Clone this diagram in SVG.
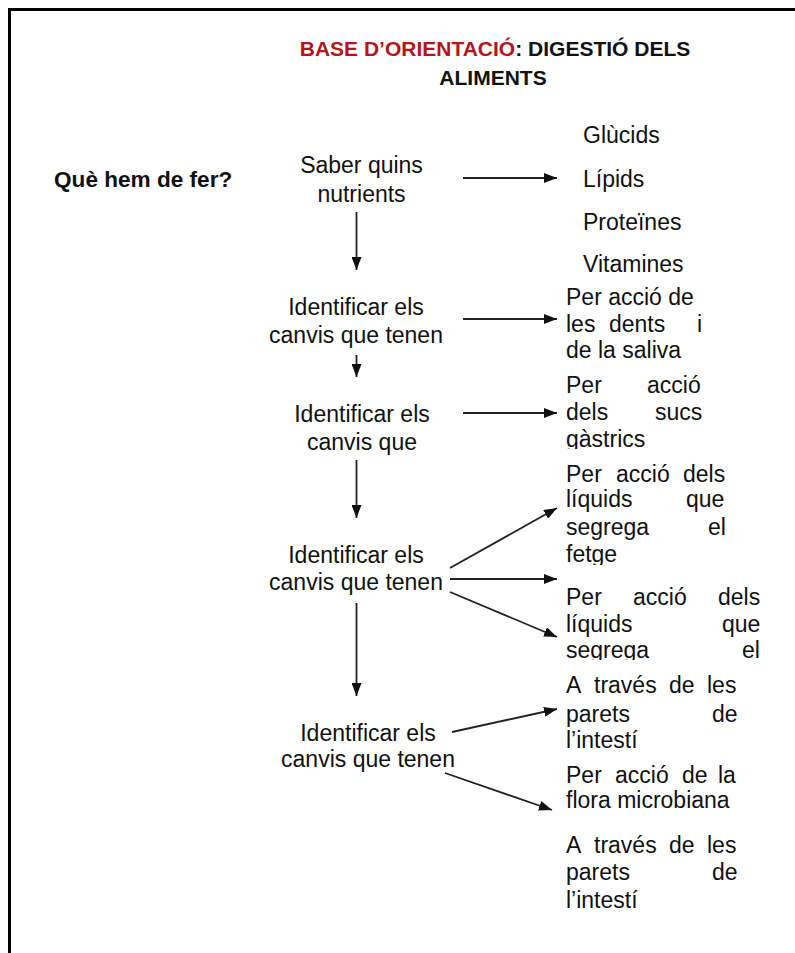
<svg xmlns="http://www.w3.org/2000/svg" width="795" height="953" viewBox="0 0 795 953">
<style>
.t{font-family:"Liberation Sans",Arial,sans-serif;font-size:23px;fill:#111}
.c{text-anchor:middle}
.b{font-weight:bold}
.ttl{font-family:"Liberation Sans",Arial,sans-serif;font-size:21px;font-weight:bold;text-anchor:middle;fill:#111}
.red{fill:#b3151b}
.ln{stroke:#222;stroke-width:1.8;fill:none;marker-end:url(#ah)}
</style>
<defs>
<marker id="ah" markerUnits="userSpaceOnUse" markerWidth="13" markerHeight="10" refX="13" refY="5" orient="auto">
<path d="M0,0 L13,5 L0,10 z" fill="#111"/>
</marker>
<clipPath id="cp3"><rect x="560" y="360" width="200" height="89"/></clipPath>
<clipPath id="cp4"><rect x="560" y="455" width="200" height="110"/></clipPath>
<clipPath id="cp5"><rect x="560" y="580" width="220" height="80"/></clipPath>
</defs>
<rect x="0" y="0" width="795" height="953" fill="#fff"/>
<g id="frame">
<path d="M9.5,953 V9.5 H795" stroke="#000" stroke-width="3" fill="none"/>
</g>
<g id="title">
<text class="ttl" x="495" y="56"><tspan class="red">BASE D’ORIENTACIÓ</tspan>: DIGESTIÓ DELS</text>
<text class="ttl" x="493" y="85">ALIMENTS</text>
</g>
<g id="question">
<text class="t b" x="54" y="187" style="font-size:22.6px">Què hem de fer?</text>
</g>
<g id="node1">
<text class="t c" x="361.5" y="173">Saber quins</text>
<text class="t c" x="361.5" y="202">nutrients</text>
</g>
<g id="node2">
<text class="t c" x="356" y="315">Identificar els</text>
<text class="t c" x="356" y="343">canvis que tenen</text>
</g>
<g id="node3">
<text class="t c" x="362" y="422">Identificar els</text>
<text class="t c" x="362" y="450">canvis que</text>
</g>
<g id="node4">
<text class="t c" x="356" y="563">Identificar els</text>
<text class="t c" x="356" y="590">canvis que tenen</text>
</g>
<g id="node5">
<text class="t c" x="368" y="741">Identificar els</text>
<text class="t c" x="368" y="767">canvis que tenen</text>
</g>
<g id="nutrients">
<text class="t" x="583" y="143">Glùcids</text>
<text class="t" x="583" y="187">Lípids</text>
<text class="t" x="583" y="230">Proteïnes</text>
<text class="t" x="583" y="272">Vitamines</text>
</g>
<g id="r2">
<text class="t" x="566" y="305">Per acció de</text>
<text class="t" y="332"><tspan x="566">les</tspan><tspan x="609">dents</tspan><tspan x="697">i</tspan></text>
<text class="t" x="566" y="358">de la saliva</text>
</g>
<g id="r3" clip-path="url(#cp3)">
<text class="t" y="393"><tspan x="566">Per</tspan><tspan x="647">acció</tspan></text>
<text class="t" y="420"><tspan x="566">dels</tspan><tspan x="655">sucs</tspan></text>
<text class="t" x="566" y="447">gàstrics</text>
</g>
<g id="r4" clip-path="url(#cp4)">
<text class="t" y="482"><tspan x="566">Per</tspan><tspan x="616">acció</tspan><tspan x="683">dels</tspan></text>
<text class="t" y="507"><tspan x="566">líquids</tspan><tspan x="686">que</tspan></text>
<text class="t" y="535"><tspan x="566">segrega</tspan><tspan x="708">el</tspan></text>
<text class="t" x="566" y="562">fetge</text>
</g>
<g id="r5" clip-path="url(#cp5)">
<text class="t" y="605"><tspan x="566">Per</tspan><tspan x="633">acció</tspan><tspan x="718">dels</tspan></text>
<text class="t" y="632"><tspan x="566">líquids</tspan><tspan x="722">que</tspan></text>
<text class="t" y="658"><tspan x="566">segrega</tspan><tspan x="742">el</tspan></text>
</g>
<g id="r6">
<text class="t" y="693"><tspan x="566">A</tspan><tspan x="594">través</tspan><tspan x="669">de</tspan><tspan x="707">les</tspan></text>
<text class="t" y="722"><tspan x="566">parets</tspan><tspan x="712">de</tspan></text>
<text class="t" x="566" y="748">l’intestí</text>
</g>
<g id="r7">
<text class="t" y="783"><tspan x="566">Per</tspan><tspan x="615">acció</tspan><tspan x="682">de</tspan><tspan x="718">la</tspan></text>
<text class="t" x="566" y="808">flora microbiana</text>
</g>
<g id="r8">
<text class="t" y="853"><tspan x="566">A</tspan><tspan x="594">través</tspan><tspan x="669">de</tspan><tspan x="707">les</tspan></text>
<text class="t" y="880"><tspan x="566">parets</tspan><tspan x="712">de</tspan></text>
<text class="t" x="566" y="908">l’intestí</text>
</g>
<g id="connectors">
<line class="ln" x1="356.5" y1="212" x2="356.5" y2="270"/>
<line class="ln" x1="356.5" y1="355" x2="356.5" y2="377"/>
<line class="ln" x1="356.5" y1="460" x2="356.5" y2="518"/>
<line class="ln" x1="356.5" y1="603" x2="356.5" y2="696"/>
<line class="ln" x1="463" y1="178" x2="557" y2="178"/>
<line class="ln" x1="463" y1="319" x2="557" y2="319"/>
<line class="ln" x1="463" y1="413" x2="557" y2="413"/>
<line class="ln" x1="450" y1="568" x2="557" y2="508"/>
<line class="ln" x1="450" y1="579" x2="557" y2="579"/>
<line class="ln" x1="450" y1="592" x2="557" y2="637"/>
<line class="ln" x1="452" y1="732" x2="557" y2="709"/>
<line class="ln" x1="445" y1="773" x2="552" y2="810"/>
</g>
</svg>
